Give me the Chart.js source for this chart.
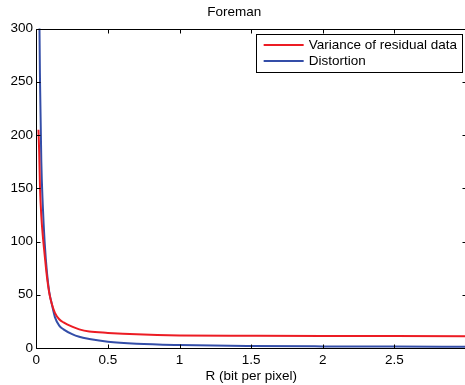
<!DOCTYPE html>
<html>
<head>
<meta charset="utf-8">
<script src="https://cdn.jsdelivr.net/npm/chart.js@4"></script>
<style>
  html, body { margin: 0; padding: 0; background: #fff; overflow: hidden; }
  #wrap { width: 470px; height: 385px; }
</style>
</head>
<body>
<div id="wrap"><canvas id="c" width="470" height="385"></canvas></div>
<script>
// ---- data ----
const chartTitle = 'Foreman';
const xTitle = 'R (bit per pixel)';
const seriesNames = ['Variance of residual data', 'Distortion'];
const rate = [0.015, 0.02, 0.026, 0.035, 0.045, 0.058, 0.075, 0.09, 0.107, 0.13, 0.16, 0.19, 0.25, 0.3, 0.37, 0.5, 0.7, 1.0, 1.5, 2.0, 2.5, 3.0];
const variance = [205, 185, 150, 124, 106, 88, 66, 52, 42, 33, 27, 24, 20, 17.5, 15.5, 14.2, 12.8, 11.8, 11.5, 11.3, 11.2, 11.1];
const distortion = [460, 330, 250, 175, 135, 100, 70, 53, 42, 29, 21, 17.5, 13, 10.5, 8.5, 5.9, 4.0, 2.8, 1.9, 1.5, 1.3, 1.2];
const xTicks = [0, 0.5, 1, 1.5, 2, 2.5, 3];
const yTicks = [0, 50, 100, 150, 200, 250, 300];

const FONT = "'Liberation Sans', Arial, sans-serif";
const FS = 13.5;
const toPts = (xs, ys) => xs.map((x, i) => ({ x: x, y: ys[i] }));

const boxPlugin = {
  id: 'matlabBox',
  afterDatasetsDraw(chart) {
    const { ctx, chartArea: a, scales } = chart;
    ctx.save();
    ctx.strokeStyle = '#000';
    ctx.lineWidth = 1;
    const L = Math.round(a.left) + 0.5, R = Math.round(a.right) + 0.5;
    const T = Math.round(a.top) + 0.5, B = Math.round(a.bottom) + 0.5;
    ctx.beginPath();
    ctx.rect(L, T, R - L, B - T);
    ctx.stroke();
    const tl = 4;
    ctx.beginPath();
    xTicks.forEach(v => {
      const px = Math.round(scales.x.getPixelForValue(v)) + 0.5;
      ctx.moveTo(px, B); ctx.lineTo(px, B - tl);
      ctx.moveTo(px, T); ctx.lineTo(px, T + tl);
    });
    yTicks.forEach(v => {
      const py = Math.round(scales.y.getPixelForValue(v)) + 0.5;
      ctx.moveTo(L, py); ctx.lineTo(L + tl, py);
      ctx.moveTo(R, py); ctx.lineTo(R - tl, py);
    });
    ctx.stroke();
    ctx.restore();
  },
  afterDraw(chart) {
    const { ctx } = chart;
    const ds = chart.data.datasets;
    ctx.save();
    ctx.font = FS + 'px ' + FONT;
    const tw = Math.max(...ds.map(d => ctx.measureText(d.label).width));
    const w = 8 + 40 + 5 + tw + 5;
    const h = 38;
    const right = 462, top = 34;
    const left = right - w;
    ctx.fillStyle = '#fff';
    ctx.fillRect(left, top, w, h);
    ctx.strokeStyle = '#000';
    ctx.lineWidth = 1;
    ctx.strokeRect(Math.round(left) + 0.5, top + 0.5, Math.round(w), h);
    ds.forEach((d, i) => {
      const y = top + 11 + i * 16;
      ctx.strokeStyle = d.borderColor;
      ctx.lineWidth = 2;
      ctx.beginPath();
      ctx.moveTo(left + 8, y); ctx.lineTo(left + 48, y);
      ctx.stroke();
      ctx.fillStyle = '#000';
      ctx.textBaseline = 'middle';
      ctx.textAlign = 'left';
      ctx.fillText(d.label, left + 53, y + 0.5);
    });
    ctx.restore();
  }
};

new Chart(document.getElementById('c'), {
  type: 'line',
  data: {
    datasets: [
      { label: seriesNames[0], data: toPts(rate, variance), borderColor: 'rgb(236,28,36)', borderWidth: 2, pointRadius: 0, cubicInterpolationMode: 'monotone', fill: false },
      { label: seriesNames[1], data: toPts(rate, distortion), borderColor: 'rgb(52,78,168)', borderWidth: 2, pointRadius: 0, cubicInterpolationMode: 'monotone', fill: false }
    ]
  },
  options: {
    responsive: false,
    animation: false,
    devicePixelRatio: 1,
    layout: { padding: { left: 0, right: 1.7, top: 0, bottom: 0 } },
    plugins: {
      legend: { display: false },
      tooltip: { enabled: false },
      title: {
        display: true, text: chartTitle, color: '#000',
        font: { family: FONT, size: FS, weight: 'normal' },
        padding: { top: 4, bottom: 8.3 }
      }
    },
    scales: {
      x: {
        type: 'linear', min: 0, max: 3,
        afterBuildTicks: s => { s.ticks = xTicks.map(v => ({ value: v })); },
        afterFit: s => { s.height = 37; },
        grid: { display: false, drawTicks: false },
        border: { display: false },
        ticks: {
          color: '#000', font: { family: FONT, size: FS }, padding: 4, maxRotation: 0,
          callback: v => (v === 3 ? '' : String(v))
        },
        title: {
          display: true, text: xTitle, color: '#000',
          font: { family: FONT, size: FS }, padding: { top: 0, bottom: 1 }
        }
      },
      y: {
        type: 'linear', min: 0, max: 300,
        afterBuildTicks: s => { s.ticks = yTicks.map(v => ({ value: v })); },
        afterFit: s => { s.width = 36.3; },
        grid: { display: false, drawTicks: false },
        border: { display: false },
        ticks: { color: '#000', font: { family: FONT, size: FS }, padding: 3.3 }
      }
    }
  },
  plugins: [boxPlugin]
});
</script>
</body>
</html>
